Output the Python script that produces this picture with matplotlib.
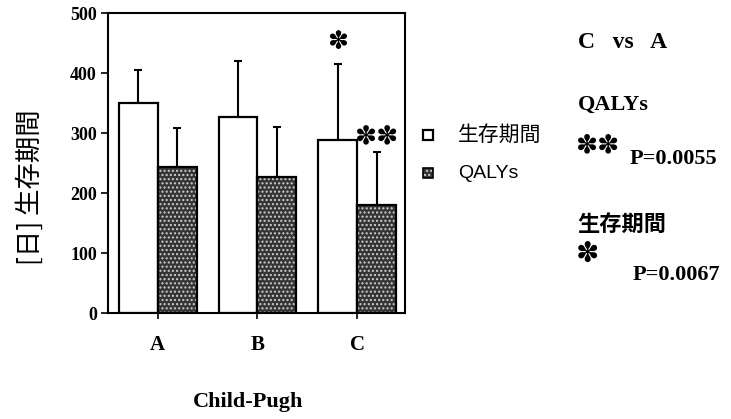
import matplotlib
matplotlib.use("Agg")
import matplotlib.pyplot as plt
from matplotlib.patches import Rectangle
import numpy as np

categories = ["A", "B", "C"]
survival = [350, 327, 289]
survival_err = [55, 93, 126]
qalys = [244, 227, 180]
qalys_err = [64, 83, 89]
yticks = [0, 100, 200, 300, 400, 500]
legend_labels = ["生存期間", "QALYs"]

W, H = 731, 419
fig = plt.figure(figsize=(W/100, H/100), dpi=100)
ax = fig.add_axes([108/W, 1-313/H, (405-108)/W, 300/H])

x = np.arange(len(categories))
bw = 0.39
serif = "Liberation Serif"
cjk = ["Noto Sans CJK JP", "DejaVu Sans"]
star_font = "DejaVu Sans"
STAR = "\u273D"

gray_face = "#353535"
gray_hatch = "#cfcfcf"

b1 = ax.bar(x - bw/2, survival, bw, facecolor="white", edgecolor="black", linewidth=1.6, zorder=2)
b2 = ax.bar(x + bw/2, qalys, bw, facecolor=gray_face, edgecolor=gray_hatch, hatch="....", linewidth=0, zorder=2)
ax.bar(x + bw/2, qalys, bw, fill=False, edgecolor="black", linewidth=1.6, zorder=3)
ax.errorbar(x - bw/2, survival, yerr=[np.zeros(3), survival_err], fmt="none", ecolor="black",
            elinewidth=1.5, capsize=3, capthick=1.5, zorder=1)
ax.errorbar(x + bw/2, qalys, yerr=[np.zeros(3), qalys_err], fmt="none", ecolor="black",
            elinewidth=1.5, capsize=3, capthick=1.5, zorder=1)

ax.set_xlim(-0.5, 2.48)
ax.set_ylim(0, 500)
ax.set_yticks(yticks)
ax.set_yticklabels([str(t) for t in yticks], fontfamily=serif, fontweight="bold", fontsize=13)
ax.set_xticks(x)
ax.set_xticklabels(categories, fontfamily=serif, fontweight="bold", fontsize=15)
ax.tick_params(axis="y", direction="out", length=5, width=1.2, pad=3)
ax.tick_params(axis="x", direction="out", length=4, width=1.2, pad=12)
for s in ax.spines.values():
    s.set_linewidth(1.5)

fig.text(30/W, 1-187/H, "[日] 生存期間", fontfamily=cjk, fontsize=19, rotation=90,
         ha="center", va="center")
fig.text(248/W, 1-402/H, "Child-Pugh", fontfamily=serif, fontweight="bold", fontsize=16,
         ha="center", va="center")

# significance marks
ax.text(x[2] - bw/2, 451, STAR, fontfamily=star_font, fontsize=18, ha="center", va="center")
ax.text(x[2] + bw/2, 295, STAR + STAR, fontfamily=star_font, fontsize=19, ha="center", va="center")

# legend (manual)
for yy, fc, hatch, ec, lab in [(135, "white", None, "black", legend_labels[0]),
                               (173, gray_face, "....", gray_hatch, legend_labels[1])]:
    r = Rectangle(((423)/W, 1-(yy+5)/H), 10/W, 10/H, transform=fig.transFigure,
                  facecolor=fc, edgecolor=ec, hatch=hatch, linewidth=0 if hatch else 1.6)
    fig.patches.append(r)
    if hatch:
        fig.patches.append(Rectangle(((423)/W, 1-(yy+5)/H), 10/W, 10/H, transform=fig.transFigure,
                                     fill=False, edgecolor="black", linewidth=1.2))
    if lab == legend_labels[0]:
        fig.text(458/W, 1-yy/H, lab, fontfamily=cjk, fontsize=15, va="center")
    else:
        fig.text(458/W, 1-yy/H, lab, fontfamily="Liberation Sans", fontsize=14, va="center")

# right annotations
fig.text(578/W, 1-42/H, "C   vs   A", fontfamily=serif, fontweight="bold", fontsize=17, va="center")
fig.text(578/W, 1-105/H, "QALYs", fontfamily=serif, fontweight="bold", fontsize=16, va="center")
fig.text(576/W, 1-145/H, STAR + STAR, fontfamily=star_font, fontsize=19, va="center")
fig.text(630/W, 1-159/H, "P=0.0055", fontfamily=serif, fontweight="bold", fontsize=16, va="center")
fig.text(577/W, 1-225/H, "生存期間", fontfamily=cjk, fontweight="bold", fontsize=16, va="center")
fig.text(576/W, 1-254/H, STAR, fontfamily=star_font, fontsize=20, va="center")
fig.text(633/W, 1-275/H, "P=0.0067", fontfamily=serif, fontweight="bold", fontsize=16, va="center")

fig.savefig("out.png", dpi=100)
